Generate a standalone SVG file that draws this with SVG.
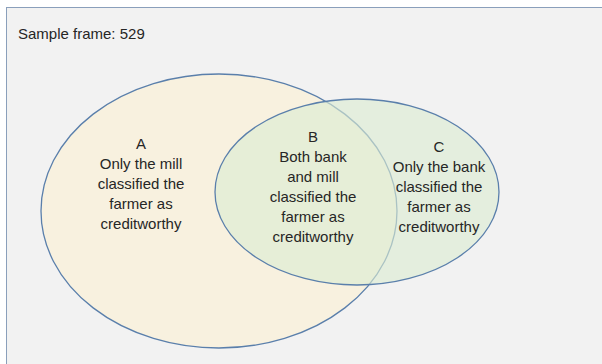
<svg xmlns="http://www.w3.org/2000/svg" width="602" height="364" viewBox="0 0 602 364">
<style>
.t{font-family:"Liberation Sans",Arial,sans-serif;font-size:15px;fill:#262626;text-anchor:middle}
.s{stroke:#5a7fab;stroke-width:1.3}
</style>
<rect x="0" y="0" width="602" height="364" fill="#ffffff"/>
<rect x="6.5" y="7.5" width="610" height="370" fill="#f2f2f2" stroke="#8a9fbb" stroke-width="1"/>
<text x="18" y="39" class="t" style="text-anchor:start">Sample frame: 529</text>
<g id="A">
<ellipse cx="219" cy="211" rx="178" ry="137" fill="#f8f1df" class="s"/>
</g>
<g id="C">
<ellipse cx="357" cy="192" rx="142" ry="93" fill="#dcecd2" fill-opacity="0.62" class="s"/>
</g>
<g id="labelA">
<text class="t" x="141" y="149">A</text>
<text class="t" x="141" y="169">Only the mill</text>
<text class="t" x="141" y="189">classified the</text>
<text class="t" x="141" y="209">farmer as</text>
<text class="t" x="141" y="229">creditworthy</text>
</g>
<g id="labelB">
<text class="t" x="313" y="142">B</text>
<text class="t" x="313" y="162">Both bank</text>
<text class="t" x="313" y="182">and mill</text>
<text class="t" x="313" y="202">classified the</text>
<text class="t" x="313" y="222">farmer as</text>
<text class="t" x="313" y="242">creditworthy</text>
</g>
<g id="labelC">
<text class="t" x="439" y="152">C</text>
<text class="t" x="439" y="172">Only the bank</text>
<text class="t" x="439" y="192">classified the</text>
<text class="t" x="439" y="212">farmer as</text>
<text class="t" x="439" y="232">creditworthy</text>
</g>
<g id="connectors"></g>
</svg>
